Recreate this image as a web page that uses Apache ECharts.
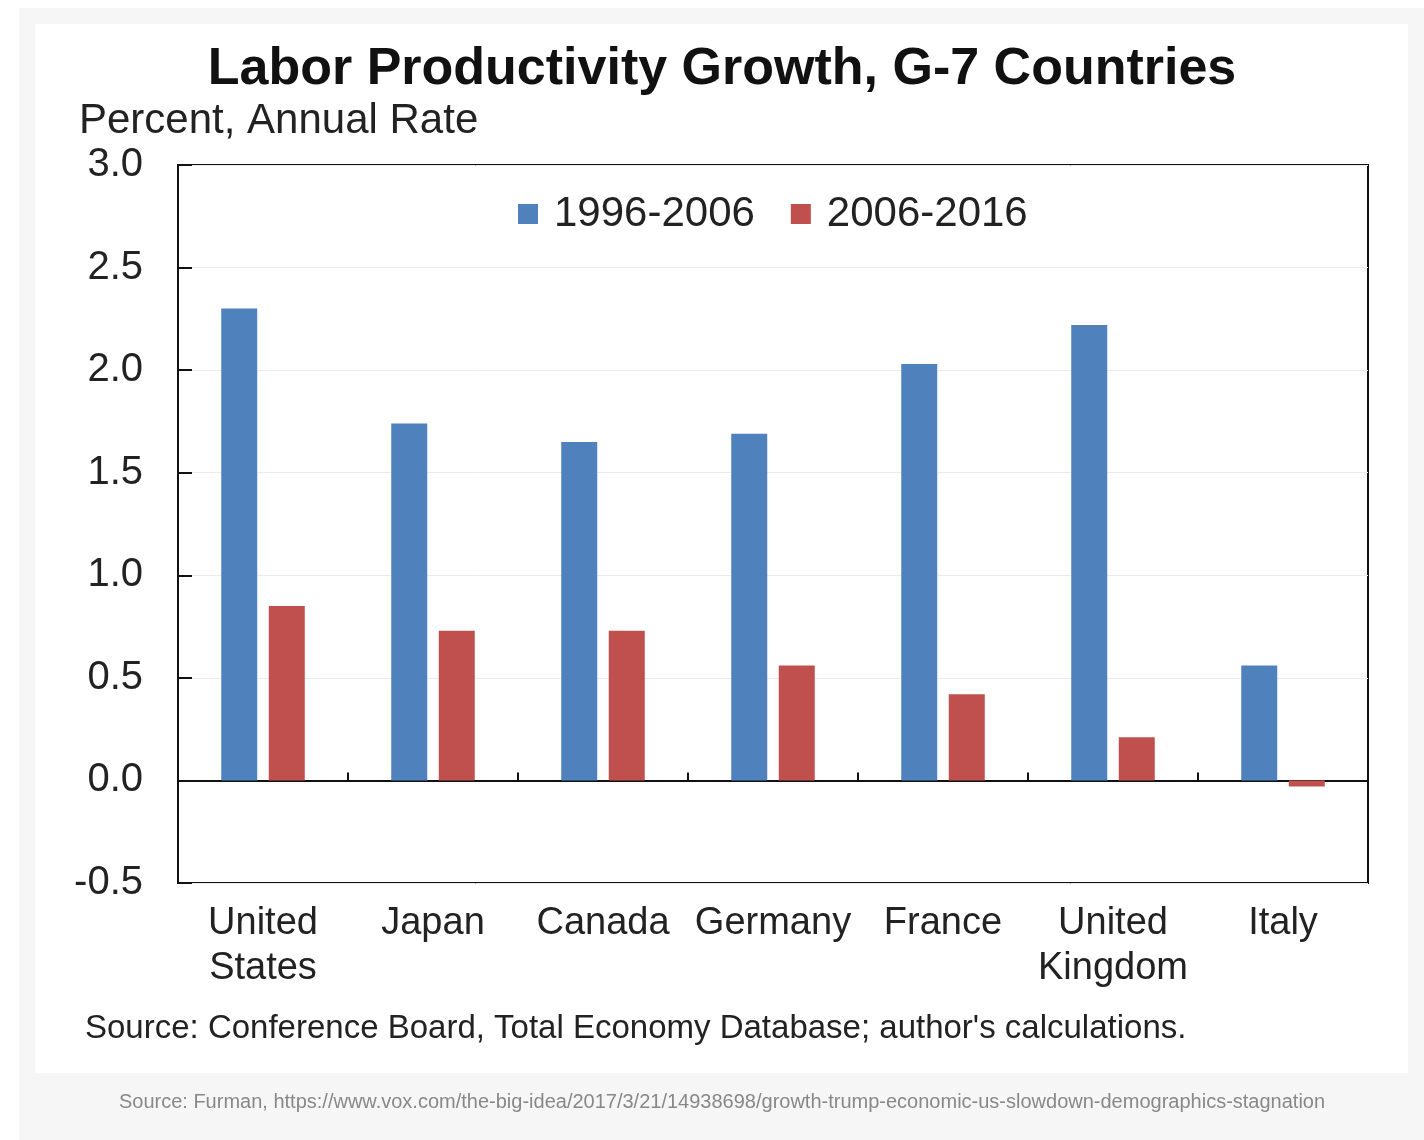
<!DOCTYPE html>
<html>
<head>
<meta charset="utf-8">
<script src="https://cdn.jsdelivr.net/npm/echarts@6/dist/echarts.min.js"></script>
<style>
  html, body { margin: 0; padding: 0; background: #ffffff; }
  #bg { position: absolute; left: 19px; top: 8px; width: 1405px; height: 1132px; background: #f6f6f6; }
  #panel { position: absolute; left: 35px; top: 24px; width: 1373px; height: 1049px; background: #ffffff; }
  #chart { position: absolute; left: 0; top: 0; width: 1424px; height: 1140px; }
</style>
</head>
<body>
<div id="bg"></div>
<div id="panel"></div>
<div id="chart"></div>
<script>
const categories = ['United\nStates', 'Japan', 'Canada', 'Germany', 'France', 'United\nKingdom', 'Italy'];
const seriesNames = ['1996-2006', '2006-2016'];
const values1996_2006 = [2.30, 1.74, 1.65, 1.69, 2.03, 2.22, 0.56];
const values2006_2016 = [0.85, 0.73, 0.73, 0.56, 0.42, 0.21, -0.03];
const yMin = -0.5, yMax = 3.0, yStep = 0.5;

const FONT = '"Liberation Sans", Arial, Helvetica, sans-serif';
const chart = echarts.init(document.getElementById('chart'), null, { renderer: 'canvas' });

chart.setOption({
  backgroundColor: 'transparent',
  animation: false,
  textStyle: { fontFamily: FONT },
  graphic: [
    { type: 'text', x: 722, y: 70, style: { text: 'Labor Productivity Growth, G-7 Countries', font: 'bold 52px ' + FONT, fill: '#111', textAlign: 'center', textVerticalAlign: 'middle' } },
    { type: 'text', x: 79, y: 121, style: { text: 'Percent, Annual Rate', font: '42px ' + FONT, fill: '#222', textAlign: 'left', textVerticalAlign: 'middle' } },
    { type: 'text', x: 85, y: 1029, style: { text: "Source: Conference Board, Total Economy Database; author's calculations.", font: '33px ' + FONT, fill: '#222', textAlign: 'left', textVerticalAlign: 'middle' } },
    { type: 'text', x: 722, y: 1102, style: { text: 'Source: Furman, https://www.vox.com/the-big-idea/2017/3/21/14938698/growth-trump-economic-us-slowdown-demographics-stagnation', font: '20px ' + FONT, fill: '#888', textAlign: 'center', textVerticalAlign: 'middle' } }
  ],
  legend: {
    left: 513, top: 188,
    icon: 'rect', itemWidth: 20, itemHeight: 20, itemGap: 36,
    textStyle: { fontSize: 42, color: '#222', fontFamily: FONT, padding: [0, 0, 0, 11] },
    data: seriesNames
  },
  grid: {
    left: 178, top: 165, right: 56, bottom: 257,
    show: true, borderColor: '#111', borderWidth: 2, backgroundColor: 'transparent',
    containLabel: false
  },
  xAxis: [
    {
      type: 'category', data: categories, position: 'bottom',
      axisLine: { show: false, onZero: false },
      axisTick: { show: false },
      axisLabel: { interval: 0, fontSize: 38, color: '#222', lineHeight: 45, margin: 18, fontFamily: FONT },
      splitLine: { show: false }
    },
    {
      type: 'category', data: categories, position: 'bottom',
      axisLine: { show: true, onZero: true, lineStyle: { color: '#111', width: 2 } },
      axisTick: { show: true, inside: true, length: 8, lineStyle: { color: '#111', width: 2 } },
      axisLabel: { show: false },
      splitLine: { show: false }
    }
  ],
  yAxis: {
    type: 'value', min: yMin, max: yMax, interval: yStep,
    axisLine: { show: true, lineStyle: { color: '#111', width: 2 } },
    axisTick: { show: true, inside: true, length: 14, lineStyle: { color: '#111', width: 2 } },
    axisLabel: { fontSize: 40, color: '#222', margin: 35, fontFamily: FONT, formatter: v => v.toFixed(1) },
    splitLine: { show: true, lineStyle: { color: '#ebebeb', width: 1 } }
  },
  series: [
    { name: seriesNames[0], type: 'bar', xAxisIndex: 0, data: values1996_2006, barWidth: 36, barGap: '32%', itemStyle: { color: '#4F81BD' } },
    { name: seriesNames[1], type: 'bar', xAxisIndex: 0, data: values2006_2016, barWidth: 36, barGap: '32%', itemStyle: { color: '#C0504D' } }
  ]
});
</script>
</body>
</html>
